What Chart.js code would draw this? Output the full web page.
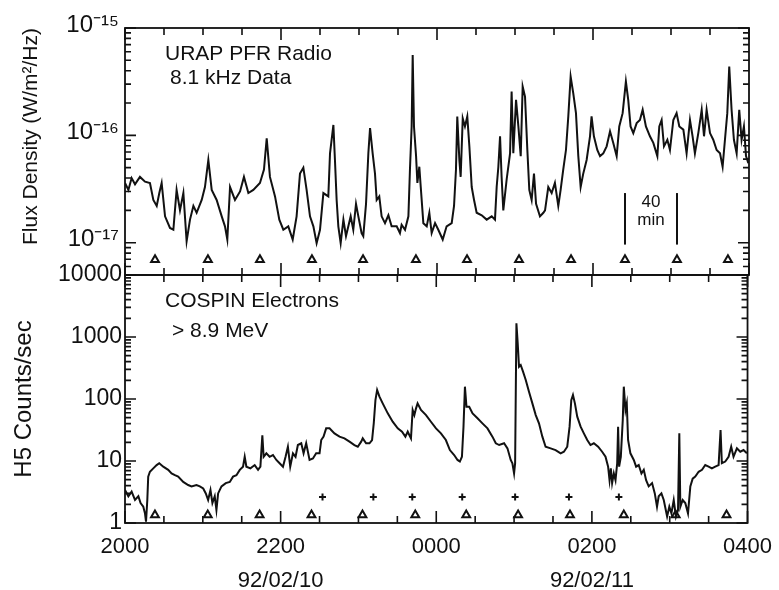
<!DOCTYPE html>
<html>
<head>
<meta charset="utf-8">
<script src="https://cdn.jsdelivr.net/npm/chart.js@4.4.0/dist/chart.umd.min.js"></script>
<style>
  html, body { margin: 0; padding: 0; background: #fff; }
  #wrap { position: relative; width: 779px; height: 590px; }
  #wrap canvas { position: absolute; left: 0; top: 0; }
</style>
</head>
<body>
<div id="wrap">
  <canvas id="radio" width="779" height="590"></canvas>
  <canvas id="electrons" width="779" height="590"></canvas>
</div>
<script>
// time axis: minutes after 2000 on 92/02/10

// URAP PFR radio, 8.1 kHz, in units of 1e-17 W/m^2/Hz
const radioTime = [
  0, 2.6, 5.1, 7.7, 11.5, 15.4, 19.2, 21.8, 24.4, 26.4, 28.2, 30.8, 34.6, 37.2, 39.7, 42.3, 44.9, 47.4, 50, 52.6,
  55.1, 59, 61.5, 64.1, 66.7, 70.5, 74.4, 76.9, 78.7, 80.8, 84.6, 88.5, 91.5, 94.9, 98.7, 103.8, 106.9, 109, 111.5, 115.4,
  118.7, 121.8, 125.6, 129, 132, 134.6, 137.2, 139.7, 142.3, 144.9, 147.4, 150, 152.6, 156.4,
  157.7, 160.3, 161.5, 162.8, 164.1, 165.9, 168, 170, 171.8, 173.6, 175.6, 177.7, 179.5, 182, 183.3, 185.4, 187.2, 188.5, 190.5, 192.3,
  193.6, 195.6, 197.4, 200, 202.6, 205.1, 209, 211.5, 212.8, 215.4, 218, 219.2, 220.5, 221.3, 222.3, 223.9, 224.9, 226.4, 227.5, 229.5,
  232.1, 234.1, 235.9, 238.5, 241, 244.4, 247.4, 251.3, 253.1, 254.6, 255.6, 257.2, 258.2, 259.8, 261.5, 263.3, 264.9, 266.7, 268.5, 270.5,
  274.4, 278.2, 282.1, 284.6, 285.9, 287.2, 288.5, 289.7, 291, 293.6, 296.2, 297.4, 298.7, 300.8, 302.6, 304.4, 305.9, 307.7, 309.5, 311,
  312.8, 314.6, 316.2, 319.2, 321.8,
  323.1, 325.6, 328.2, 330.7, 333.3, 335.1, 337.1, 339.2, 341, 342.8, 344.8, 346.9, 348.7, 350.5, 352.5, 355.1, 357.7, 358.9, 360.7, 363.3,
  365.4, 367.9, 370.5, 373.1, 375.6, 378.2, 380.2, 382.8, 385.3, 387.1, 388.9, 391, 393.6, 396.1, 398.2, 400.7, 403.8, 406.4, 409.5, 411,
  412.8, 414.6, 417.2, 419.2, 421.8, 424.3, 426.4, 429.5, 432, 434.6, 436.6, 438.4, 441, 443.6, 445.4, 447.4, 450, 452.5, 455.1, 457.7,
  459.7, 461.5, 463.3, 464.8, 466.6, 468.4, 470.5, 472.5, 474.3, 476.1, 477.7, 479.5
];
const radioFlux = [
  3.6, 3.1, 4.0, 3.5, 4.1, 3.7, 3.6, 2.5, 2.2, 2.9, 3.6, 1.76, 1.37, 1.32, 3.1, 2.0, 2.9, 1.03, 1.64, 2.2,
  1.9, 2.5, 3.3, 5.9, 3.1, 2.5, 1.76, 1.42, 1.07, 3.3, 2.5, 3.0, 4.1, 2.9, 3.1, 3.6, 4.8, 9.4, 4.1, 2.7,
  1.64, 1.32, 1.42, 1.07, 1.76, 4.4, 5.0, 3.1, 1.76, 1.42, 0.99, 1.32, 2.9, 2.7,
  6.8, 12.5, 5.9, 2.5, 1.42, 0.99, 1.64, 1.15, 1.42, 1.76, 1.32, 2.3, 1.76, 1.23, 1.15, 2.3, 6.8, 11.7, 6.8, 4.4,
  2.5, 2.7, 1.76, 1.52, 1.8, 1.42, 1.42, 1.23, 1.47, 1.32, 1.76, 4.8, 12.1, 56, 12.1, 6.4, 3.6, 5.1, 3.3, 1.52,
  1.42, 1.9, 1.23, 1.52, 1.32, 1.07, 1.42, 1.52, 2.2, 4.8, 15.0, 5.9, 4.1, 14.4, 12.1, 15.0, 7.9, 3.3, 2.5, 1.9,
  1.8, 1.64, 1.76, 1.64, 3.3, 5.1, 9.8, 4.1, 2.0, 3.9, 6.8, 25.6, 6.8, 21.4, 12.1, 6.4, 28.5, 23.0, 7.3, 3.1,
  2.5, 4.4, 2.3, 1.76, 1.9,
  2.0, 3.3, 2.9, 3.6, 2.2, 3.1, 4.8, 7.3, 15.0, 35.3, 24.7, 16.1, 6.4, 3.3, 4.4, 5.9, 9.8, 15.0, 9.8, 7.3,
  6.4, 6.8, 7.9, 10.9, 8.5, 6.4, 12.1, 16.1, 31.7, 21.4, 12.1, 10.5, 13.0, 13.9, 17.3, 12.1, 9.8, 8.5, 6.4, 12.1,
  13.9, 7.9, 9.1, 7.3, 13.9, 16.1, 12.1, 11.3, 6.8, 13.9, 9.8, 6.8, 10.5, 17.3, 9.8, 17.3, 10.5, 9.1, 7.3, 6.8,
  5.1, 9.1, 16.1, 43.7, 17.3, 9.1, 6.8, 17.3, 9.1, 12.1, 6.4, 5.5
];

// COSPIN H5 electrons > 8.9 MeV, counts/sec
const electronTime = [
  0, 2.6, 5.1, 7.7, 10.3, 12.0, 14.1, 15.4, 16.2, 17.2, 17.9, 19.2, 21.8, 24.4, 26.4, 29.5, 33.3, 35.9, 38.5, 41,
  44.9, 48.7, 51.3, 55.1, 57.7, 60.3, 62.3, 64.1, 65.9, 67.4, 69.2, 70.5, 71.8, 74.4, 77.7, 80.8, 83.3, 85.9, 88.5, 91,
  92.3, 93.6, 96.7, 100, 102.6, 104.4, 105.9, 106.9, 109, 111.5, 114.1, 116.7, 119.2, 121.8, 123.8, 125.6, 127.4, 129.5, 131.5, 133.3,
  135.9, 137.7, 139.7, 142.3, 144.9, 147.4, 150, 151.3, 153.1, 155.1, 157.7,
  161.5, 165.4, 169.2, 173.1, 176.9, 179.5, 182.1, 183.3, 185.9, 188.5, 190.5, 191.8, 193.1, 194.4, 196.2, 198.7, 202.6, 206.4, 210.3, 213.6,
  216.2, 218, 220.5, 221.8, 223.1, 224.4, 225.6, 228.2, 232.1, 235.9, 239.8, 243.6, 247.4, 250.5, 253.8, 256.4, 258.2, 259.8, 261, 262.1,
  263.3, 265.4, 268, 271.8, 275.6, 279.5, 283.3, 285.9, 288.5, 292.3, 294.9, 297.4, 298.7, 300, 300.8, 301.8, 302.8, 303.8, 305.1, 306.9,
  309, 311.5, 314.1, 316.7,
  319.2, 321.8, 324.3, 328.2, 332, 335.9, 338.4, 341, 342.8, 344.1, 345.4, 346.9, 348.7, 351.3, 353.8, 356.4, 358.9, 361.5, 364.8, 367.9,
  370.5, 372.5, 373.6, 374.6, 375.6, 376.9, 378.2, 379.5, 380.2, 381, 382.3, 383.8, 384.6, 385.9, 386.9, 387.9, 389.7, 392.3, 394.1, 396.1,
  398.2, 400, 401.8, 403.8, 406.4, 408.5, 410.2, 411.5, 413.6, 415.4, 418, 419.7, 421.3, 423.1, 424.8, 426.4, 427.4, 428.2, 430, 432,
  434.1, 435.9, 437.7, 439.7, 442.3, 444.9, 447.4, 450, 452.5, 455.1, 457.7, 459.2, 460.2, 462.8, 465.4, 467.4, 469.2, 471.8, 474.4, 476.9,
  479.5
];
const electronRate = [
  3.4, 2.7, 3.2, 2.35, 2.7, 2.1, 1.83, 1.43, 1.05, 2.35, 5.6, 6.7, 7.6, 8.6, 9.2, 8.1, 7.2, 6.3, 5.9, 5.6,
  4.6, 4.1, 3.9, 4.1, 3.9, 3.6, 3.0, 2.35, 3.4, 2.1, 2.7, 1.62, 3.0, 3.9, 4.4, 4.6, 5.6, 5.9, 7.2, 8.1,
  11.7, 8.1, 7.6, 8.6, 7.2, 8.1, 26, 11.7, 13.3, 11.7, 12.5, 10.4, 9.2, 8.1, 11.7, 17.0, 8.1, 13.3, 11.7, 18.1,
  19.3, 13.3, 19.3, 10.4, 11.0, 13.3, 13.3, 21.8, 24.7, 33.6, 33.6,
  27.9, 24.7, 23.2, 20.5, 18.1, 17.0, 20.5, 23.2, 19.3, 19.3, 21.8, 40.5, 96, 140, 109, 85, 58.7, 43, 33.6, 29.7,
  24.7, 29.7, 23.2, 66.5, 55, 70.6, 85, 66.5, 55, 43, 33.6, 27.9, 21.8, 15.0, 12.5, 10.4, 9.8, 11.7, 35.8, 158,
  75, 75, 58.7, 48.8, 40.5, 33.6, 24.7, 19.3, 18.1, 19.3, 16.0, 10.4, 9.2, 6.3, 9.2, 1660, 790, 332, 353, 276,
  203, 131, 85, 55,
  40.5, 24.7, 17.0, 16.0, 15.0, 13.3, 14.1, 17.0, 35.8, 96, 116, 85, 51.9, 35.8, 27.9, 21.8, 18.1, 19.3, 17.0, 14.1,
  11.7, 8.1, 4.9, 7.6, 4.4, 6.3, 4.9, 9.2, 35.8, 8.1, 11.7, 45.8, 158, 66.5, 85, 21.8, 13.3, 10.4, 8.1, 8.6,
  6.3, 7.2, 4.9, 3.9, 4.4, 3.0, 1.83, 2.7, 3.0, 2.35, 1.27, 1.83, 1.43, 2.35, 1.27, 1.62, 27.9, 1.83, 2.35, 2.1,
  1.43, 3.9, 5.2, 5.6, 6.7, 7.2, 8.6, 8.1, 7.6, 8.1, 8.6, 31.6, 9.2, 9.8, 11.7, 17.0, 11.7, 16.0, 14.1, 15.0,
  13.3
];

// event markers
const triangleTimes = [23.1, 63.8, 103.8, 143.8, 183.1, 223.8, 263.1, 303.1, 343.1, 384.6, 424.6, 463.8];
const plusTimes = [152.3, 191.5, 221.5, 260, 300.8, 342.3, 380.8];
const radioTriangleLevel = 6.95e-18;
const electronTriangleLevel = 1.35;
const plusLevel = 2.63;

// 40 min scale bar
const scaleBarTimes = [384.6, 424.6];
const scaleBarFlux = [0.96e-17, 2.9e-17];

// axes
const hourTicks = [0, 120, 240, 360, 480];
const hourLabels = ['2000', '2200', '0000', '0200', '0400'];
const dateLabels = ['', '92/02/10', '', '92/02/11', ''];
const radioDecades = [1e-17, 1e-16, 1e-15];
const radioDecadeLabels = ['10⁻¹⁷', '10⁻¹⁶', '10⁻¹⁵'];
const countDecades = [1, 10, 100, 1000, 10000];
const countDecadeLabels = ['1', '10', '100', '1000', '10000'];

const FONT = '"Liberation Sans", Arial, Helvetica, sans-serif';
const INK = '#111';
Chart.defaults.font.family = FONT;
Chart.defaults.color = INK;

// boxed frame with inward ticks on all four sides
const frameTicks = {
  id: 'frameTicks',
  afterDatasetsDraw(chart) {
    const { ctx, chartArea: a, scales: { x, y } } = chart;
    ctx.save();
    ctx.strokeStyle = INK;
    ctx.lineWidth = 1.8;
    ctx.strokeRect(a.left, a.top, a.right - a.left, a.bottom - a.top);
    ctx.lineWidth = 1.6;
    ctx.beginPath();
    for (let m = x.min; m <= x.max; m += 30) {
      const px = x.getPixelForValue(m);
      const len = m % 120 === 0 ? 12 : 7;
      ctx.moveTo(px, a.top); ctx.lineTo(px, a.top + len);
      ctx.moveTo(px, a.bottom); ctx.lineTo(px, a.bottom - len);
    }
    const d0 = Math.floor(Math.log10(y.min));
    const d1 = Math.ceil(Math.log10(y.max));
    for (let d = d0; d <= d1; d++) {
      for (let k = 1; k < 10; k++) {
        const v = k * Math.pow(10, d);
        if (v < y.min * 0.999 || v > y.max * 1.001) continue;
        const py = y.getPixelForValue(v);
        const len = k === 1 ? 11 : 6;
        ctx.moveTo(a.left, py); ctx.lineTo(a.left + len, py);
        ctx.moveTo(a.right, py); ctx.lineTo(a.right - len, py);
      }
    }
    ctx.stroke();
    ctx.restore();
  }
};

function notes(items) {
  return {
    id: 'notes',
    afterDraw(chart) {
      const { ctx, chartArea: a, scales } = chart;
      ctx.save();
      ctx.fillStyle = INK;
      ctx.textBaseline = 'middle';
      items.forEach(n => {
        ctx.font = `${n.size}px ${FONT}`;
        ctx.textAlign = n.align || 'left';
        const px = n.t !== undefined ? scales.x.getPixelForValue(n.t) : a.left + n.dx;
        const py = n.v !== undefined ? scales.y.getPixelForValue(n.v) : a.top + n.dy;
        ctx.fillText(n.text, px, py);
      });
      ctx.restore();
    }
  };
}

const lineStyle = { showLine: true, borderColor: INK, borderWidth: 2, pointRadius: 0, tension: 0 };
const triangleStyle = { showLine: false, pointStyle: 'triangle', pointRadius: 4.5, borderColor: INK, backgroundColor: '#fff', borderWidth: 2 };

const baseOptions = {
  responsive: false,
  animation: false,
  events: [],
  plugins: { legend: { display: false }, tooltip: { enabled: false } },
};

new Chart(document.getElementById('radio'), {
  type: 'scatter',
  data: {
    datasets: [
      { ...lineStyle, data: radioTime.map((t, i) => ({ x: t, y: radioFlux[i] * 1e-17 })) },
      { ...triangleStyle, data: triangleTimes.map(t => ({ x: t, y: radioTriangleLevel })) },
      ...scaleBarTimes.map(t => ({ ...lineStyle, data: scaleBarFlux.map(f => ({ x: t, y: f })) })),
    ],
  },
  options: {
    ...baseOptions,
    layout: { padding: { left: 0, right: 30, top: 28, bottom: 315 } },
    scales: {
      x: { type: 'linear', min: 0, max: 480, display: false },
      y: {
        type: 'logarithmic', min: 5e-18, max: 1e-15,
        afterBuildTicks: s => { s.ticks = radioDecades.map(v => ({ value: v })); },
        afterFit: s => { s.width = 125; },
        grid: { display: false, drawTicks: false },
        border: { display: false },
        ticks: { padding: 6, labelOffset: -3, font: { size: 24 }, callback: (v, i) => radioDecadeLabels[i] },
        title: { display: true, text: 'Flux Density (W/m²/Hz)', align: 'end', font: { size: 21 }, padding: { top: 19, bottom: 0 } },
      },
    },
  },
  plugins: [frameTicks, notes([
    { text: 'URAP PFR Radio', dx: 40, dy: 26, size: 21 },
    { text: '8.1 kHz Data', dx: 45, dy: 50, size: 21 },
    { text: '40', t: 404.6, v: 2.36e-17, size: 17, align: 'center' },
    { text: 'min', t: 404.6, v: 1.6e-17, size: 17, align: 'center' },
  ])],
});

new Chart(document.getElementById('electrons'), {
  type: 'scatter',
  data: {
    datasets: [
      { ...lineStyle, data: electronTime.map((t, i) => ({ x: t, y: electronRate[i] })) },
      { ...triangleStyle, data: triangleTimes.map(t => ({ x: t, y: electronTriangleLevel })) },
      { showLine: false, pointStyle: 'cross', pointRadius: 3.5, borderColor: INK, borderWidth: 2,
        data: plusTimes.map(t => ({ x: t, y: plusLevel })) },
    ],
  },
  options: {
    ...baseOptions,
    layout: { padding: { left: 0, right: 30, top: 275, bottom: 0 } },
    scales: {
      x: {
        type: 'linear', min: 0, max: 480,
        afterBuildTicks: s => { s.ticks = hourTicks.map(v => ({ value: v })); },
        afterFit: s => { s.height = 67; },
        grid: { display: false, drawTicks: false },
        border: { display: false },
        ticks: {
          autoSkip: false, maxRotation: 0, padding: 7,
          font: { size: 22, lineHeight: 1.55 },
          callback: (v, i) => dateLabels[i] ? [hourLabels[i], dateLabels[i]] : hourLabels[i],
        },
      },
      y: {
        type: 'logarithmic', min: 1, max: 10000,
        afterBuildTicks: s => { s.ticks = countDecades.map(v => ({ value: v })); },
        afterFit: s => { s.width = 125; },
        grid: { display: false, drawTicks: false },
        border: { display: false },
        ticks: { padding: 3, font: { size: 23 }, callback: (v, i) => countDecadeLabels[i] },
        title: { display: true, text: 'H5 Counts/sec', font: { size: 24 }, padding: { top: 10, bottom: 0 } },
      },
    },
  },
  plugins: [frameTicks, notes([
    { text: 'COSPIN Electrons', dx: 40, dy: 26, size: 21 },
    { text: '> 8.9 MeV', dx: 47, dy: 56, size: 21 },
  ])],
});
</script>
</body>
</html>
